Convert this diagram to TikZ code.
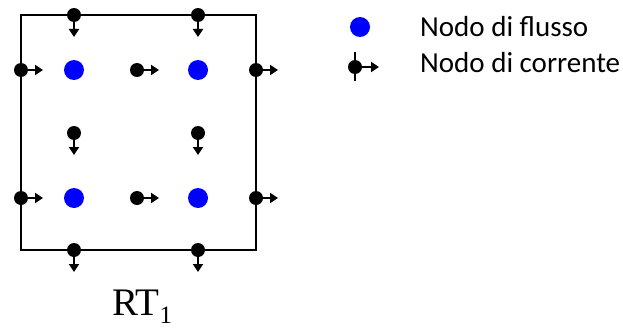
\documentclass[tikz,border=0pt]{standalone}
\usepackage{fontspec}
\setmainfont{Liberation Serif}
\newfontfamily\legendfont{Carlito}
\usetikzlibrary{arrows.meta}
\begin{document}
\begin{tikzpicture}[x=1pt,y=-1pt,
  fnode/.style={circle,fill=blue,inner sep=0pt,minimum size=20pt},
  cnode/.style={circle,fill=black,inner sep=0pt,minimum size=14pt},
  arr/.style={line width=2pt,-{Triangle[length=8pt,width=10pt]}},
  boxline/.style={line width=2.5pt},
  legtext/.style={anchor=base west,inner sep=0pt,font=\legendfont\fontsize{29}{29}\selectfont}]
\useasboundingbox (0,0) rectangle (623,329);
\draw[boxline] (21,15) rectangle (256,250);
% flux nodes
\node[fnode] (f1) at (74,70) {};
\node[fnode] (f2) at (198,70) {};
\node[fnode] (f3) at (74,198) {};
\node[fnode] (f4) at (198,198) {};
% current nodes, arrow right
\foreach \n/\x/\y in {h1/21/70,h2/137/70,h3/256/70,h4/21/198,h5/137/198,h6/256/198}{
  \node[cnode] (\n) at (\x,\y) {};
  \coordinate (\n t) at (\x+22,\y);
  \draw[arr] (\n) -- (\n t);
}
% current nodes, arrow down
\foreach \n/\x/\y in {v1/74/15,v2/198/15,v3/74/133,v4/198/133,v5/74/250,v6/198/250}{
  \node[cnode] (\n) at (\x,\y) {};
  \coordinate (\n t) at (\x,\y+22);
  \draw[arr] (\n) -- (\n t);
}
% label
\node[anchor=base west,inner sep=0pt,font=\fontsize{39}{39}\selectfont] (rt) at (112,315) {RT\raisebox{-8pt}{\fontsize{25}{25}\selectfont 1}};
% legend
\node[fnode] (lf) at (360,27) {};
\node[cnode] (lc) at (355,67) {};
\coordinate (lctop) at (355,52);
\coordinate (lcbot) at (355,81);
\coordinate (lct) at (379,67);
\draw[line width=2pt] (lctop) -- (lcbot);
\draw[arr] (lc) -- (lct);
\node[legtext] (l1) at (420,37) {Nodo di flusso};
\node[legtext] (l2) at (420,72) {Nodo di corrente};
\end{tikzpicture}
\end{document}
